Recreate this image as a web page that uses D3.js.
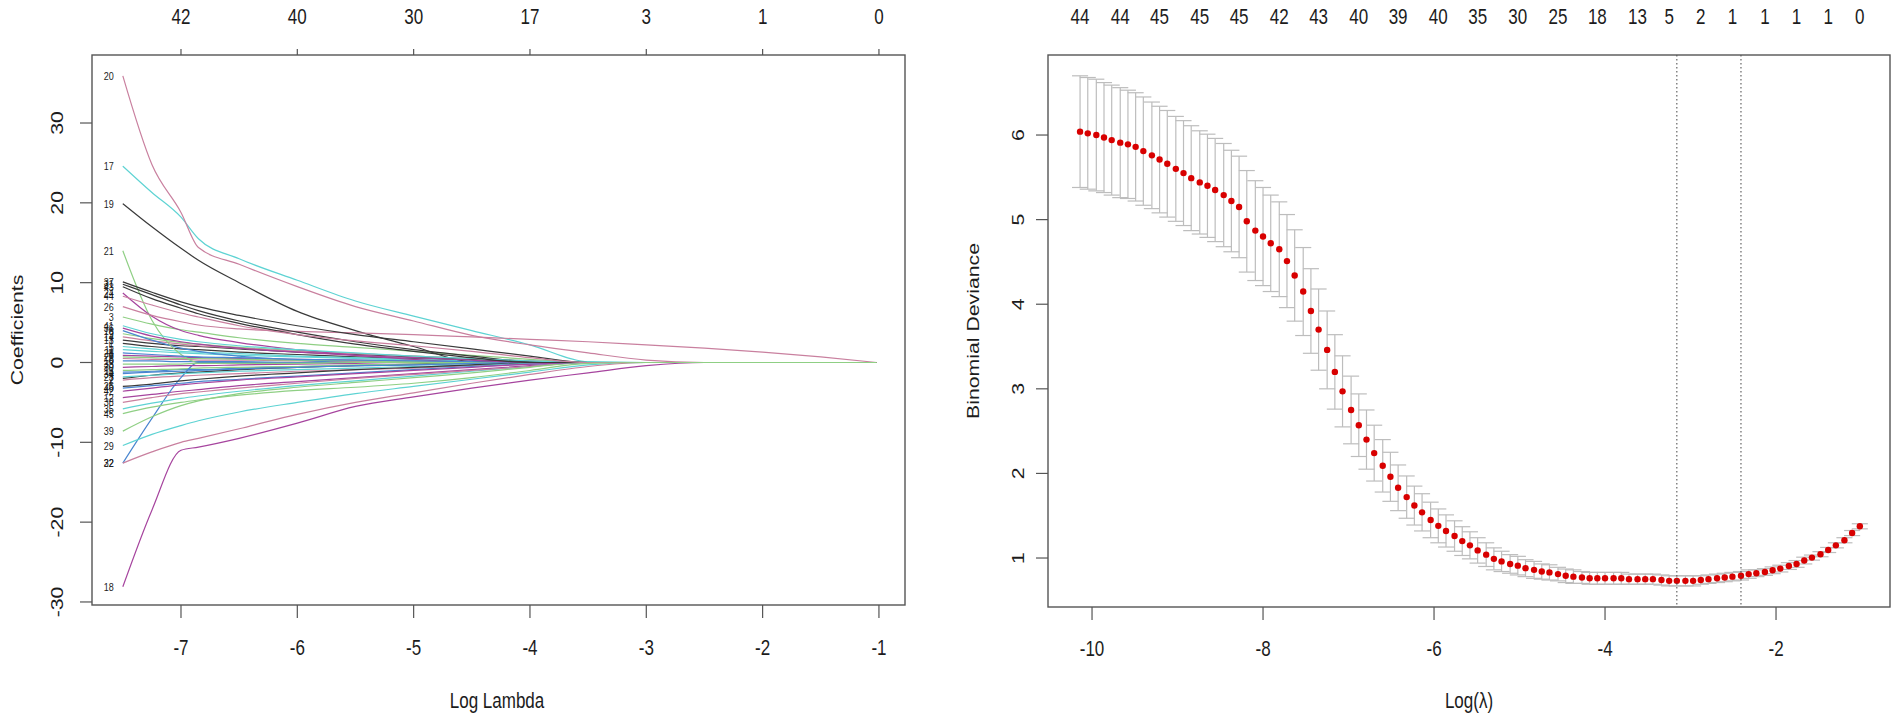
<!DOCTYPE html>
<html>
<head>
<meta charset="utf-8">
<title>LASSO coefficient paths and cross-validation</title>
<script src="https://cdn.jsdelivr.net/npm/d3@7"></script>
<style>
  html, body { margin: 0; padding: 0; background: #fff; }
  svg { display: block; font-family: "Liberation Sans", Arial, sans-serif; }
</style>
</head>
<body>
<svg id="chart" width="1902" height="721"></svg>
<script>
// ---------------------------------------------------------------------------
// Left panel: coefficient paths (glmnet style), values read at these log-lambda knots
// ---------------------------------------------------------------------------
const knots = [-7.5, -7.25, -7.0, -6.85, -6.5, -6.0, -5.5, -5.0, -4.5, -4.0, -3.5, -3.0, -2.5, -2.0, -1.5, -1.02];

const varIds = [1, 2, 3, 4, 5, 6, 7, 8, 9, 10, 11, 12, 13, 14, 15, 16, 17, 18, 19, 20, 21, 22, 23,
  24, 25, 26, 27, 28, 29, 30, 31, 32, 33, 34, 35, 36, 37, 38, 39, 40, 41, 42, 43, 44, 45];

const coefPaths = [
  [2.4, 2.0, 1.7, 1.6, 1.3, 1.0, 0.7, 0.5, 0.3, 0.1, 0, 0, 0, 0, 0, 0],
  [-2.2, -1.9, -1.7, -1.6, -1.4, -1.1, -0.9, -0.7, -0.4, -0.2, 0, 0, 0, 0, 0, 0],
  [5.7, 4.8, 4.1, 3.8, 3.1, 2.4, 1.9, 1.4, 0.9, 0.4, 0, 0, 0, 0, 0, 0],
  [-1.2, -1.1, -0.9, -0.9, -0.7, -0.5, -0.4, -0.3, -0.1, 0, 0, 0, 0, 0, 0, 0],
  [2.0, 1.7, 1.4, 1.3, 1.1, 0.8, 0.6, 0.4, 0.2, 0, 0, 0, 0, 0, 0, 0],
  [0.9, 0.8, 0.7, 0.6, 0.5, 0.4, 0.3, 0.2, 0.1, 0, 0, 0, 0, 0, 0, 0],
  [-2.0, -1.6, -1.3, -1.2, -0.9, -0.6, -0.4, -0.2, 0, 0, 0, 0, 0, 0, 0, 0],
  [0.5, 0.4, 0.4, 0.3, 0.3, 0.2, 0.1, 0.1, 0, 0, 0, 0, 0, 0, 0, 0],
  [3.6, 3.0, 2.5, 2.3, 1.9, 1.5, 1.1, 0.8, 0.5, 0.2, 0, 0, 0, 0, 0, 0],
  [0.2, 0.2, 0.1, 0.1, 0.1, 0, 0, 0, 0, 0, 0, 0, 0, 0, 0, 0],
  [1.6, 1.4, 1.2, 1.1, 0.9, 0.7, 0.5, 0.3, 0.1, 0, 0, 0, 0, 0, 0, 0],
  [-4.4, -4.0, -3.6, -3.4, -2.9, -2.4, -1.9, -1.4, -0.9, -0.4, 0, 0, 0, 0, 0, 0],
  [2.8, 2.4, 2.1, 2.0, 1.7, 1.3, 1.0, 0.7, 0.4, 0.1, 0, 0, 0, 0, 0, 0],
  [3.2, 2.7, 2.3, 2.1, 1.8, 1.4, 1.1, 0.8, 0.5, 0.2, 0, 0, 0, 0, 0, 0],
  [-1.0, -0.9, -0.8, -0.7, -0.6, -0.5, -0.3, -0.2, -0.1, 0, 0, 0, 0, 0, 0, 0],
  [4.0, 2.8, 1.8, 1.4, 0.8, 0.3, 0, 0, 0, 0, 0, 0, 0, 0, 0, 0],
  [24.6, 21.3, 18.2, 15.5, 13.0, 10.3, 7.7, 5.8, 4.0, 2.2, 0.1, 0, 0, 0, 0, 0],
  [-28.1, -18.5, -11.0, -10.6, -9.5, -7.6, -5.5, -4.3, -3.2, -2.2, -1.3, -0.4, 0, 0, 0, 0],
  [19.9, 17.0, 14.3, 12.8, 10.0, 6.4, 4.0, 2.0, 0.1, 0, 0, 0, 0, 0, 0, 0],
  [35.9, 24.8, 18.8, 14.4, 12.3, 9.5, 7.0, 5.2, 3.4, 2.2, 1.2, 0.3, 0, 0, 0, 0],
  [14.0, 5.3, 1.0, 0, 0, 0, 0, 0, 0, 0, 0, 0, 0, 0, 0, 0],
  [-12.6, -7.0, -1.9, 0, 0, 0, 0, 0, 0, 0, 0, 0, 0, 0, 0, 0],
  [-1.8, -1.6, -1.4, -1.3, -1.1, -0.9, -0.7, -0.5, -0.3, -0.1, 0, 0, 0, 0, 0, 0],
  [8.7, 5.8, 4.0, 3.4, 2.5, 1.6, 0.9, 0.4, 0, 0, 0, 0, 0, 0, 0, 0],
  [-3.0, -2.7, -2.3, -2.1, -1.7, -1.3, -0.9, -0.6, -0.3, 0, 0, 0, 0, 0, 0, 0],
  [7.0, 5.9, 5.1, 4.7, 4.2, 3.9, 3.7, 3.5, 3.2, 2.9, 2.6, 2.2, 1.8, 1.3, 0.7, 0],
  [0.7, 0.6, 0.5, 0.5, 0.4, 0.3, 0.2, 0.1, 0, 0, 0, 0, 0, 0, 0, 0],
  [1.2, 1.0, 0.8, 0.7, 0.6, 0.4, 0.3, 0.2, 0.1, 0, 0, 0, 0, 0, 0, 0],
  [-10.4, -9.0, -7.9, -7.3, -6.2, -5.0, -3.9, -3.0, -2.1, -1.2, -0.3, 0, 0, 0, 0, 0],
  [-0.6, -0.5, -0.4, -0.4, -0.3, -0.2, -0.1, 0, 0, 0, 0, 0, 0, 0, 0, 0],
  [9.8, 8.5, 7.2, 6.5, 5.2, 3.8, 2.6, 1.6, 0.8, 0.1, 0, 0, 0, 0, 0, 0],
  [-12.6, -11.2, -10.0, -9.5, -8.3, -6.5, -5.0, -3.8, -2.6, -1.5, -0.5, 0, 0, 0, 0, 0],
  [-0.2, -0.2, -0.2, -0.1, -0.1, -0.1, 0, 0, 0, 0, 0, 0, 0, 0, 0, 0],
  [-1.4, -1.2, -1.1, -1.0, -0.8, -0.6, -0.4, -0.3, -0.1, 0, 0, 0, 0, 0, 0, 0],
  [-5.8, -5.1, -4.5, -4.2, -3.6, -2.9, -2.3, -1.7, -1.1, -0.5, 0, 0, 0, 0, 0, 0],
  [4.3, 3.3, 2.6, 2.3, 1.8, 1.3, 0.9, 0.6, 0.3, 0, 0, 0, 0, 0, 0, 0],
  [10.1, 8.8, 7.6, 7.0, 5.9, 4.6, 3.5, 2.6, 1.7, 0.8, 0, 0, 0, 0, 0, 0],
  [-5.0, -4.4, -3.9, -3.7, -3.2, -2.6, -2.0, -1.5, -1.0, -0.5, 0, 0, 0, 0, 0, 0],
  [-8.6, -6.8, -5.4, -4.8, -3.9, -3.1, -2.5, -1.9, -1.3, -0.6, 0, 0, 0, 0, 0, 0],
  [-3.2, -2.9, -2.6, -2.4, -2.1, -1.7, -1.3, -0.9, -0.5, -0.2, 0, 0, 0, 0, 0, 0],
  [4.6, 3.6, 2.9, 2.6, 2.1, 1.6, 1.2, 0.8, 0.5, 0.2, 0, 0, 0, 0, 0, 0],
  [-3.6, -3.2, -2.8, -2.6, -2.2, -1.8, -1.4, -1.0, -0.6, -0.2, 0, 0, 0, 0, 0, 0],
  [9.5, 8.0, 6.8, 6.1, 4.9, 3.5, 2.3, 1.4, 0.6, 0, 0, 0, 0, 0, 0, 0],
  [8.3, 7.2, 6.2, 5.7, 4.6, 3.5, 2.7, 2.1, 1.4, 0.6, 0, 0, 0, 0, 0, 0],
  [-6.4, -5.6, -5.0, -4.7, -4.1, -3.5, -3.1, -2.6, -1.9, -1.0, -0.1, 0, 0, 0, 0, 0]
];

const leftXTicks = [-7, -6, -5, -4, -3, -2, -1];
const leftYTicks = [-30, -20, -10, 0, 10, 20, 30];
const leftTopLabels = [42, 40, 30, 17, 3, 1, 0];   // non-zero counts at leftXTicks

// ---------------------------------------------------------------------------
// Right panel: cross-validated binomial deviance
// ---------------------------------------------------------------------------
const logLambda = [
  -10.14, -10.05, -9.95, -9.86, -9.77, -9.67, -9.58, -9.49, -9.40, -9.30,
  -9.21, -9.12, -9.02, -8.93, -8.84, -8.74, -8.65, -8.56, -8.46, -8.37,
  -8.28, -8.19, -8.09, -8.00, -7.91, -7.81, -7.72, -7.63, -7.53, -7.44,
  -7.35, -7.25, -7.16, -7.07, -6.97, -6.88, -6.79, -6.70, -6.60, -6.51,
  -6.42, -6.32, -6.23, -6.14, -6.04, -5.95, -5.86, -5.76, -5.67, -5.58,
  -5.49, -5.39, -5.30, -5.21, -5.11, -5.02, -4.93, -4.83, -4.74, -4.65,
  -4.55, -4.46, -4.37, -4.27, -4.18, -4.09, -4.00, -3.90, -3.81, -3.72,
  -3.62, -3.53, -3.44, -3.34, -3.25, -3.16, -3.06, -2.97, -2.88, -2.79,
  -2.69, -2.60, -2.51, -2.41, -2.32, -2.23, -2.13, -2.04, -1.95, -1.85,
  -1.76, -1.67, -1.58, -1.48, -1.39, -1.30, -1.20, -1.11, -1.02
];

const cvMean = [
  6.04, 6.02, 6.00, 5.97, 5.94, 5.91, 5.89, 5.86, 5.81, 5.76,
  5.71, 5.66, 5.60, 5.55, 5.49, 5.44, 5.40, 5.35, 5.29, 5.22,
  5.15, 4.98, 4.87, 4.80, 4.72, 4.65, 4.51, 4.34, 4.15, 3.92,
  3.70, 3.46, 3.20, 2.97, 2.75, 2.57, 2.40, 2.24, 2.09, 1.96,
  1.83, 1.72, 1.62, 1.54, 1.45, 1.38, 1.32, 1.26, 1.20, 1.15,
  1.09, 1.04, 0.99, 0.96, 0.93, 0.91, 0.88, 0.86, 0.84, 0.83,
  0.81, 0.79, 0.78, 0.77, 0.76, 0.76, 0.76, 0.76, 0.76, 0.75,
  0.75, 0.75, 0.75, 0.74, 0.73, 0.73, 0.73, 0.73, 0.74, 0.75,
  0.76, 0.77, 0.78, 0.79, 0.81, 0.82, 0.835, 0.855, 0.875, 0.905,
  0.93, 0.97, 1.005, 1.045, 1.095, 1.15, 1.21, 1.295, 1.375
];

const cvSe = [
  0.66, 0.66, 0.66, 0.65, 0.65, 0.65, 0.64, 0.64, 0.64, 0.63,
  0.63, 0.63, 0.62, 0.62, 0.62, 0.61, 0.61, 0.61, 0.61, 0.60,
  0.60, 0.60, 0.59, 0.58, 0.57, 0.56, 0.55, 0.54, 0.52, 0.50,
  0.48, 0.46, 0.44, 0.42, 0.40, 0.37, 0.35, 0.33, 0.31, 0.29,
  0.27, 0.25, 0.23, 0.22, 0.21, 0.20, 0.19, 0.18, 0.17, 0.16,
  0.15, 0.14, 0.13, 0.12, 0.11, 0.11, 0.10, 0.10, 0.09, 0.09,
  0.08, 0.08, 0.08, 0.07, 0.07, 0.07, 0.07, 0.07, 0.07, 0.06,
  0.06, 0.06, 0.06, 0.06, 0.06, 0.06, 0.06, 0.06, 0.05, 0.05,
  0.05, 0.05, 0.05, 0.05, 0.05, 0.04, 0.04, 0.04, 0.04, 0.04,
  0.04, 0.04, 0.03, 0.03, 0.03, 0.03, 0.03, 0.03, 0.03
];

const lambdaMinLog = -3.16;
const lambda1seLog = -2.41;

const rightXTicks = [-10, -8, -6, -4, -2];
const rightYTicks = [1, 2, 3, 4, 5, 6];
const rightTopIdx = [0, 5, 10, 15, 20, 25, 30, 35, 40, 45, 50, 55, 60, 65, 70, 74, 78, 82, 86, 90, 94, 98];
const rightTopLabels = [44, 44, 45, 45, 45, 42, 43, 40, 39, 40, 35, 30, 25, 18, 13, 5, 2, 1, 1, 1, 1, 0];

// ---------------------------------------------------------------------------
(function () {
  'use strict';

  // R matplot colour cycle as it reads after thin-line rendering
  const PALETTE = ['#3a3a3a', '#c9809f', '#8fcf84', '#4a86d0', '#5ed3d3', '#a6449e'];
  const AXIS = '#555';
  const INK = '#1c1c1c';
  const STRETCH = 1.25;   // the picture is slightly taller than its fonts

  const svg = d3.select('#chart');

  function label(g, x, y, txt, size, rotate, anchor) {
    g.append('text')
      .attr('transform', `translate(${x},${y}) scale(1,${STRETCH})` + (rotate ? ' rotate(-90)' : ''))
      .attr('text-anchor', anchor || 'middle')
      .attr('dy', '0.36em')
      .attr('font-size', size)
      .attr('fill', INK)
      .text(txt);
  }

  function frame(g, x, y) {
    const [x0, x1] = x.range();
    const [y1, y0] = y.range();
    g.append('rect')
      .attr('x', x0).attr('y', y0)
      .attr('width', x1 - x0).attr('height', y1 - y0)
      .attr('fill', 'none').attr('stroke', AXIS).attr('stroke-width', 1.4);
  }

  // ---------------- left panel ----------------
  function drawLeft() {
    const g = svg.append('g');
    const x = d3.scaleLinear().domain([-7.765, -0.776]).range([92, 905]);
    const y = d3.scaleLinear().domain([-30.38, 38.52]).range([605, 55]);

    const line = d3.line()
      .x(d => x(d[0]))
      .y(d => y(d[1]))
      .curve(d3.curveMonotoneX);

    varIds.forEach((id, i) => {
      const pts = knots.map((k, j) => [k, coefPaths[i][j]]);
      g.append('path')
        .attr('d', line(pts))
        .attr('fill', 'none')
        .attr('stroke', PALETTE[(id - 1) % PALETTE.length])
        .attr('stroke-width', 1.2);
    });

    // variable labels at the small-lambda end
    varIds.forEach((id, i) => {
      label(g, x(knots[0]) - 9, y(coefPaths[i][0]), String(id), 9, false, 'end');
    });

    frame(g, x, y);

    // bottom axis
    leftXTicks.forEach(t => {
      g.append('line').attr('x1', x(t)).attr('x2', x(t)).attr('y1', 605).attr('y2', 618)
        .attr('stroke', AXIS).attr('stroke-width', 1.2);
      label(g, x(t), 647, String(t), 17);
    });
    // top axis (number of non-zero coefficients)
    leftXTicks.forEach((t, i) => {
      g.append('line').attr('x1', x(t)).attr('x2', x(t)).attr('y1', 55).attr('y2', 49)
        .attr('stroke', AXIS).attr('stroke-width', 1.2);
      label(g, x(t), 16, String(leftTopLabels[i]), 17);
    });
    // left axis
    leftYTicks.forEach(t => {
      g.append('line').attr('x1', 92).attr('x2', 80).attr('y1', y(t)).attr('y2', y(t))
        .attr('stroke', AXIS).attr('stroke-width', 1.2);
      label(g, 57, y(t), String(t), 17, true);
    });

    label(g, 497, 700, 'Log Lambda', 17);
    label(g, 17, 330, 'Coefficients', 17, true);
  }

  // ---------------- right panel ----------------
  function drawRight() {
    const g = svg.append('g');
    const x = d3.scaleLinear().domain([-10.515, -0.667]).range([1048, 1890]);
    const y = d3.scaleLinear().domain([0.421, 6.946]).range([607, 55]);
    const CAP = 0.094;   // half cap width, in log-lambda units

    const rows = logLambda.map((v, i) => ({ v, m: cvMean[i], se: cvSe[i] }));

    // error bars
    const bars = g.append('g').attr('stroke', '#bdbdbd').attr('stroke-width', 1.2);
    rows.forEach(r => {
      const up = y(r.m + r.se), lo = y(r.m - r.se);
      bars.append('line').attr('x1', x(r.v)).attr('x2', x(r.v)).attr('y1', up).attr('y2', lo);
      bars.append('line').attr('x1', x(r.v - CAP)).attr('x2', x(r.v + CAP)).attr('y1', up).attr('y2', up);
      bars.append('line').attr('x1', x(r.v - CAP)).attr('x2', x(r.v + CAP)).attr('y1', lo).attr('y2', lo);
    });

    // points
    g.append('g').selectAll('circle')
      .data(rows)
      .join('circle')
      .attr('cx', d => x(d.v))
      .attr('cy', d => y(d.m))
      .attr('r', 3.2)
      .attr('fill', '#d80000');

    // lambda.min and lambda.1se
    [lambdaMinLog, lambda1seLog].forEach(v => {
      g.append('line')
        .attr('x1', x(v)).attr('x2', x(v)).attr('y1', 55).attr('y2', 607)
        .attr('stroke', '#444').attr('stroke-width', 1)
        .attr('stroke-dasharray', '1.5,2.5');
    });

    frame(g, x, y);

    rightXTicks.forEach(t => {
      g.append('line').attr('x1', x(t)).attr('x2', x(t)).attr('y1', 607).attr('y2', 620)
        .attr('stroke', AXIS).attr('stroke-width', 1.2);
      label(g, x(t), 648, String(t), 17);
    });
    rightYTicks.forEach(t => {
      g.append('line').attr('x1', 1048).attr('x2', 1036).attr('y1', y(t)).attr('y2', y(t))
        .attr('stroke', AXIS).attr('stroke-width', 1.2);
      label(g, 1018, y(t), String(t), 17, true);
    });
    rightTopIdx.forEach((idx, i) => {
      label(g, x(logLambda[idx]), 16, String(rightTopLabels[i]), 17);
    });

    label(g, 1469, 700, 'Log(\u03BB)', 17);
    label(g, 973, 331, 'Binomial Deviance', 17, true);
  }

  drawLeft();
  drawRight();
})();
</script>
</body>
</html>
